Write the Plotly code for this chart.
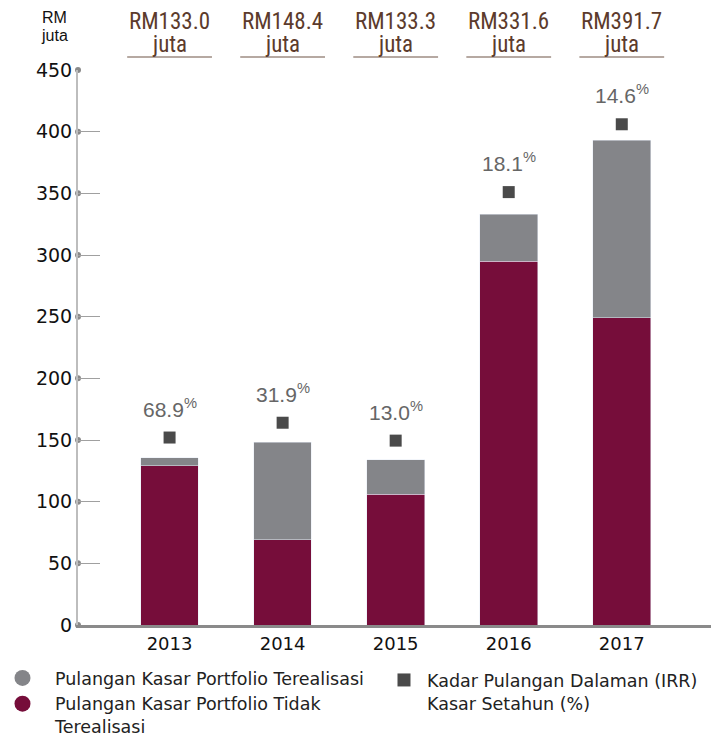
import plotly.graph_objects as go

years = ["2013", "2014", "2015", "2016", "2017"]
tidak_terealisasi = [129, 69, 106, 295, 249]
terealisasi = [6.5, 79, 28, 38, 144]
irr_pos = [152, 164, 149.5, 351, 406]
irr_labels = ["68.9", "31.9", "13.0", "18.1", "14.6"]
headers = ["RM133.0", "RM148.4", "RM133.3", "RM331.6", "RM391.7"]
yticks = [0, 50, 100, 150, 200, 250, 300, 350, 400, 450]

RED = "#760d3a"
GRAY = "#848589"
SQ = "#4a4a4a"
BROWN = "#5c3b2c"
NARROW = "Liberation Sans Narrow, Roboto Condensed, Roboto, sans-serif"
ARIAL = "Liberation Sans, Arial, sans-serif"
DEJAVU = "DejaVu Sans, Verdana, sans-serif"

fig = go.Figure()
fig.add_trace(go.Bar(x=years, y=tidak_terealisasi, marker_color=RED, width=0.51,
                     showlegend=False, hoverinfo="y"))
fig.add_trace(go.Bar(x=years, y=terealisasi, marker_color=GRAY, width=0.51,
                     showlegend=False, hoverinfo="y"))
fig.add_trace(go.Scatter(x=years, y=irr_pos, mode="markers",
                         marker=dict(symbol="square", size=12, color=SQ),
                         showlegend=False, hoverinfo="skip"))
# tick dots on y-axis
fig.add_trace(go.Scatter(x=[0] * len(yticks), y=yticks, xaxis="x2", mode="markers",
                         marker=dict(size=6, color="#8a8a8a"), cliponaxis=False,
                         showlegend=False, hoverinfo="skip"))
# legend entries
fig.add_trace(go.Scatter(x=[None], y=[None], mode="markers",
                         marker=dict(symbol="circle", size=22, color=GRAY),
                         name="Pulangan Kasar Portfolio Terealisasi", legend="legend"))
fig.add_trace(go.Scatter(x=[None], y=[None], mode="markers",
                         marker=dict(symbol="circle", size=22, color=RED),
                         name="Pulangan Kasar Portfolio Tidak<br>Terealisasi", legend="legend"))
fig.add_trace(go.Scatter(x=[None], y=[None], mode="markers",
                         marker=dict(symbol="square", size=13, color=SQ),
                         name="Kadar Pulangan Dalaman (IRR)<br>Kasar Setahun (%)", legend="legend2"))

for i, (lab, pos) in enumerate(zip(irr_labels, irr_pos)):
    fig.add_annotation(x=i, y=pos, text=f"{lab}<sup>%</sup>", showarrow=False,
                       yshift=30, font=dict(family=ARIAL, size=21, color="#666666"))

for i, h in enumerate(headers):
    fig.add_annotation(x=i, y=1.087, yref="paper", text=h, showarrow=False,
                       yanchor="middle", font=dict(family=NARROW, size=23, color=BROWN))
    fig.add_annotation(x=i, y=1.046, yref="paper", text="juta", showarrow=False,
                       yanchor="middle", font=dict(family=NARROW, size=23, color=BROWN))
    fig.add_shape(type="line", xref="x", yref="paper", x0=i - 0.375, x1=i + 0.375,
                  y0=1.0234, y1=1.0234, line=dict(color="#6e5446", width=1.2))

fig.add_annotation(x=-0.0374, xref="paper", xanchor="center", y=1.0937, yref="paper",
                   text="RM", showarrow=False, yanchor="middle",
                   font=dict(family=ARIAL, size=16, color="#111111"))
fig.add_annotation(x=-0.0374, xref="paper", xanchor="center", y=1.062, yref="paper",
                   text="juta", showarrow=False, yanchor="middle",
                   font=dict(family=ARIAL, size=16, color="#111111"))

fig.update_layout(
    width=711, height=730,
    margin=dict(l=70, r=0, t=62, b=113, autoexpand=False),
    plot_bgcolor="white", paper_bgcolor="white",
    barmode="stack", bargap=0.5,
    xaxis=dict(type="category", range=[-0.81, 4.86], showgrid=False,
               showline=True, linecolor="#8a8a8a", linewidth=3,
               tickfont=dict(family=DEJAVU, size=18, color="#111111"), ticks=""),
    xaxis2=dict(overlaying="x", range=[0, 1], visible=False),
    yaxis=dict(range=[0, 450], tickvals=yticks, showgrid=False, zeroline=False,
               showline=True, linecolor="#bdbdbd", linewidth=2,
               ticks="inside", ticklen=22, tickcolor="#a0a0a0", tickwidth=1,
               tickfont=dict(family=DEJAVU, size=19, color="#111111")),
    legend=dict(x=-0.1373, y=-0.0631, xref="paper", yref="paper",
                xanchor="left", yanchor="top", traceorder="normal", valign="top",
                font=dict(family=DEJAVU, size=17.5, color="#222222"),
                tracegroupgap=0, itemsizing="trace", itemwidth=55,
                bgcolor="rgba(0,0,0,0)"),
    legend2=dict(x=0.5246, y=0.104, xref="container", yref="container",
                 xanchor="left", yanchor="top", itemwidth=36, valign="top",
                 font=dict(family=DEJAVU, size=17.5, color="#222222"),
                 bgcolor="rgba(0,0,0,0)"),
)

fig.write_html("out.html")
